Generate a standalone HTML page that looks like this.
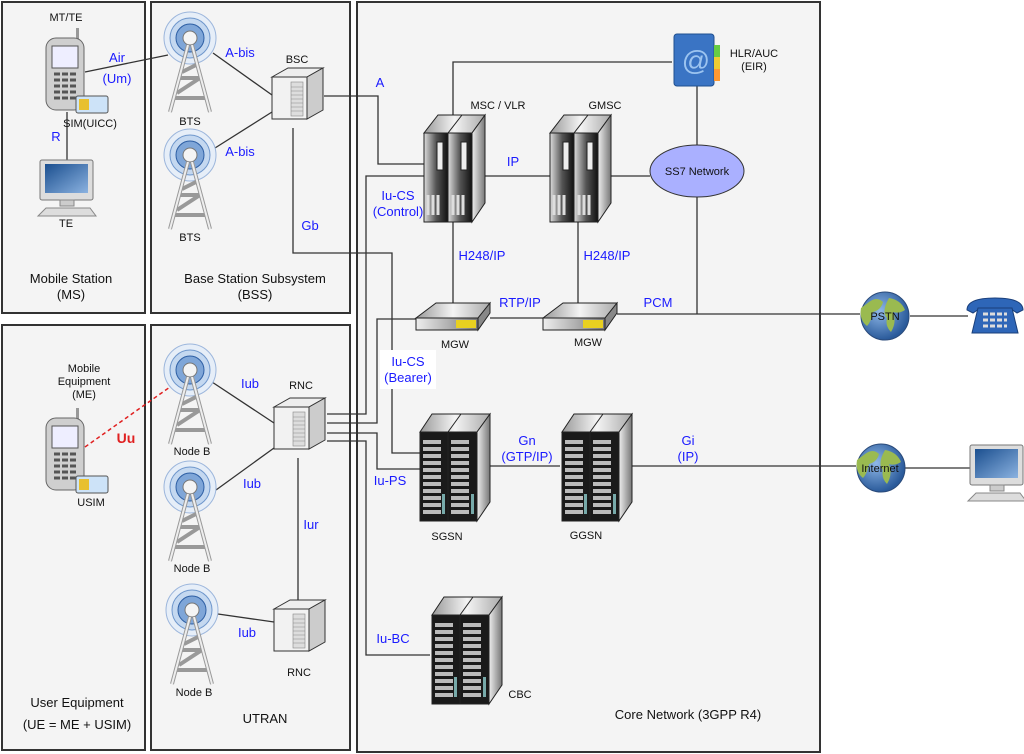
<!DOCTYPE html>
<html><head><meta charset="utf-8"><style>
html,body{margin:0;padding:0;background:#fff}
svg{display:block}
text{font-family:"Liberation Sans",Arial,sans-serif}
.b{fill:#1a1aff;font-size:13px}
.k{fill:#111;font-size:11px}
.t{fill:#111;font-size:13px}
</style></head><body>
<svg width="1024" height="754" viewBox="0 0 1024 754" xmlns="http://www.w3.org/2000/svg">
<defs>
<linearGradient id="gr" x1="0" x2="1"><stop offset="0" stop-color="#ddd"/><stop offset=".5" stop-color="#555"/><stop offset="1" stop-color="#111"/></linearGradient>
<linearGradient id="gs" x1="0" x2="1"><stop offset="0" stop-color="#eee"/><stop offset="1" stop-color="#777"/></linearGradient>
<linearGradient id="gt" x1="0" x2="1"><stop offset="0" stop-color="#999"/><stop offset=".5" stop-color="#f4f4f4"/><stop offset="1" stop-color="#aaa"/></linearGradient>
<radialGradient id="gg" cx=".4" cy=".4" r=".6"><stop offset="0" stop-color="#8fb8e8"/><stop offset="1" stop-color="#2a5a9a"/></radialGradient>
<linearGradient id="gm" x1="0" y1="0" x2="1" y2="1"><stop offset="0" stop-color="#1b4f8f"/><stop offset="1" stop-color="#8bb2e0"/></linearGradient>
<g id="tower">
 <circle cx="0" cy="0" r="26" fill="#e6eef8" stroke="#9cb6dc"/>
 <circle cx="0" cy="0" r="20" fill="#c4d8f0" stroke="#6f97cc"/>
 <circle cx="0" cy="0" r="14" fill="#7fa6d8" stroke="#2e5fa4"/>
 <circle cx="0" cy="0" r="7" fill="#f4f4f4" stroke="#777"/>
 <path d="M-2,7 L-20,74 M2,7 L20,74 M-16,60 L16,60 M-11,40 L11,40 M-13,55 L10,40 M-8,34 L8,26" stroke="#999" stroke-width="4" fill="none"/>
 <path d="M-2,7 L-20,74 M2,7 L20,74" stroke="#eee" stroke-width="2" fill="none"/>
</g>
<g id="cab">
 <polygon points="0,9 16,0 51,0 35,9" fill="#eee" stroke="#333"/>
 <polygon points="35,9 51,0 51,42 35,51" fill="#ccc" stroke="#333"/>
 <rect x="0" y="9" width="35" height="42" fill="#f2f2f2" stroke="#333"/>
 <rect x="19" y="14" width="12" height="34" fill="#ddd" stroke="#888" stroke-width=".6"/>
 <path d="M19,19h12M19,23h12M19,27h12M19,31h12M19,35h12M19,39h12M19,43h12" stroke="#888" stroke-width=".6"/>
</g>
<g id="rack">
 <polygon points="0,18 14,0 61,0 48,18" fill="url(#gt)" stroke="#222"/>
 <line x1="24" y1="18" x2="38" y2="0" stroke="#222"/>
 <polygon points="48,18 61,0 61,88 48,107" fill="url(#gs)" stroke="#222"/>
 <rect x="0" y="18" width="24" height="89" fill="url(#gr)" stroke="#222"/>
 <rect x="24" y="18" width="24" height="89" fill="url(#gr)" stroke="#222"/>
 <rect x="13" y="27" width="6" height="28" fill="#eee" stroke="#222"/><rect x="37" y="27" width="6" height="28" fill="#eee" stroke="#222"/>
 <path d="M4,80v20M9,80v20M14,80v20M29,80v20M34,80v20M39,80v20" stroke="#ddd" stroke-width="3"/>
</g>
<g id="srv">
 <polygon points="0,18 12,0 70,0 57,18" fill="url(#gt)" stroke="#222"/>
 <line x1="28" y1="18" x2="41" y2="0" stroke="#222"/>
 <polygon points="57,18 70,0 70,88 57,107" fill="url(#gs)" stroke="#222"/>
 <rect x="0" y="18" width="28" height="89" fill="#1a1a1a" stroke="#222"/>
 <rect x="28" y="18" width="29" height="89" fill="#1a1a1a" stroke="#222"/>
 <path d="M3,28h18M3,35h18M3,42h18M3,49h18M3,56h18M3,63h18M3,70h18M3,77h18M3,84h18M3,91h18M3,98h18M31,28h18M31,35h18M31,42h18M31,49h18M31,56h18M31,63h18M31,70h18M31,77h18M31,84h18M31,91h18M31,98h18" stroke="#bbb" stroke-width="4"/>
 <rect x="22" y="80" width="3" height="20" fill="#7aa"/><rect x="51" y="80" width="3" height="20" fill="#7aa"/>
</g>
<g id="mgw">
 <polygon points="0,15 20,0 74,0 62,15" fill="url(#gt)" stroke="#222"/>
 <polygon points="62,15 74,0 74,10 62,27" fill="#888" stroke="#222"/>
 <rect x="0" y="15" width="62" height="12" fill="url(#gs)" stroke="#222"/>
 <rect x="40" y="17" width="20" height="8" fill="#e8d020"/>
</g>
<g id="phone">
 <rect x="30" y="0" width="3" height="12" fill="#999"/>
 <rect x="0" y="10" width="38" height="72" rx="10" fill="#cfcfcf" stroke="#666"/>
 <rect x="6" y="18" width="26" height="22" fill="#eef" stroke="#555"/>
 <path d="M8,46h22M8,52h22M8,58h22M8,64h22M8,70h22" stroke="#555" stroke-width="3" stroke-dasharray="6,2"/>
 <rect x="30" y="68" width="32" height="17" rx="2" fill="#cde3f8" stroke="#555"/>
 <rect x="33" y="71" width="10" height="11" fill="#e8c030"/>
</g>
<g id="mon">
 <rect x="0" y="0" width="53" height="40" rx="2" fill="#ddd" stroke="#777"/>
 <rect x="5" y="4" width="43" height="29" fill="url(#gm)"/>
 <rect x="20" y="40" width="14" height="6" fill="#ccc" stroke="#888"/>
 <polygon points="-2,56 6,48 50,48 56,56" fill="#ddd" stroke="#888"/>
</g>
<g id="globe">
 <circle r="24" fill="url(#gg)" stroke="#2a4a7a"/>
 <path d="M-16,-14 q8,-6 14,0 q-2,8 -10,10 q-2,10 -6,14 q-8,-6 -6,-18z M4,-18 q12,2 16,12 q-6,4 -12,2 q4,10 -2,20 q-6,-6 -4,-14 q-6,-6 2,-20z" fill="#9aba50"/>
</g>
</defs>

<rect x="2" y="2" width="143" height="311" fill="#f4f4f4" stroke="#333" stroke-width="2"/>
<rect x="151" y="2" width="199" height="311" fill="#f4f4f4" stroke="#333" stroke-width="2"/>
<rect x="2" y="325" width="143" height="425" fill="#f4f4f4" stroke="#333" stroke-width="2"/>
<rect x="151" y="325" width="199" height="425" fill="#f4f4f4" stroke="#333" stroke-width="2"/>
<rect x="357" y="2" width="463" height="750" fill="#f4f4f4" stroke="#333" stroke-width="2"/>

<g stroke="#333" stroke-width="1.3" fill="none">
 <path d="M85,72 L168,55"/>
 <path d="M67,112 V160"/>
 <path d="M213,53 L272,95 M215,148 L272,112"/>
 <path d="M324,96 H378 V164 H425"/>
 <path d="M293,128 V253 H392 V453 H420"/>
 <path d="M327,414 H366 V176 H425"/>
 <path d="M327,423 H377 V319 H416"/>
 <path d="M327,433 H377 V469 H420"/>
 <path d="M327,441 H366 V655 H430"/>
 <path d="M453,115 V62 H672"/>
 <path d="M697,85 V150"/>
 <path d="M485,176 H551 M610,176 H650"/>
 <path d="M453,222 V303 M578,222 V303"/>
 <path d="M490,318 H543"/>
 <path d="M617,314 H860 M697,192 V314"/>
 <path d="M910,316 H968"/>
 <path d="M490,466 H560 M632,466 H856 M904,468 H970"/>
 <path d="M212,382 L274,423 M216,490 L274,448 M218,614 L274,622"/>
 <path d="M298,458 V608"/>
</g>
<path d="M85,447 L170,387" stroke="#e02020" stroke-width="1.5" stroke-dasharray="4,3"/>

<use href="#phone" x="46" y="28"/>
<use href="#mon" x="40" y="160"/>
<use href="#phone" x="46" y="408"/>
<use href="#tower" x="190" y="38"/>
<use href="#tower" x="190" y="155"/>
<use href="#tower" x="190" y="370"/>
<use href="#tower" x="190" y="487"/>
<use href="#tower" x="192" y="610"/>
<use href="#cab" x="272" y="68"/>
<use href="#cab" x="274" y="398"/>
<use href="#cab" x="274" y="600"/>
<use href="#rack" x="424" y="115"/>
<use href="#rack" x="550" y="115"/>
<use href="#mgw" x="416" y="303"/>
<use href="#mgw" x="543" y="303"/>
<use href="#srv" x="420" y="414"/>
<use href="#srv" x="562" y="414"/>
<use href="#srv" x="432" y="597"/>
<g>
 <rect x="674" y="34" width="40" height="52" rx="3" fill="#3a74c4" stroke="#1f4f8f"/>
 <rect x="714" y="45" width="6" height="12" fill="#6c4"/><rect x="714" y="57" width="6" height="12" fill="#ec3"/><rect x="714" y="69" width="6" height="12" fill="#f93"/>
 <text x="696" y="70" font-size="28" fill="#9cc4f0" text-anchor="middle">@</text>
</g>
<ellipse cx="697" cy="171" rx="47" ry="26" fill="#aab0ff" stroke="#333"/>
<use href="#globe" x="885" y="316"/>
<use href="#globe" x="881" y="468"/>
<g>
 <path d="M967,310 q0,-12 28,-12 q28,0 28,12 l-6,3 -6,-4 -32,0 -6,4z" fill="#2e66b8" stroke="#1a3f7a"/>
 <polygon points="978,308 1012,308 1018,333 972,333" fill="#2e66b8" stroke="#1a3f7a"/>
 <path d="M983,314h24M983,320h24M983,326h24" stroke="#ddd" stroke-width="3" stroke-dasharray="5,2"/>
</g>
<use href="#mon" x="970" y="445"/>

<g text-anchor="middle">
<text x="66" y="21" class="k">MT/TE</text>
<text x="117" y="62" class="b">Air</text>
<text x="117" y="83" class="b">(Um)</text>
<text x="90" y="127" class="k">SIM(UICC)</text>
<text x="56" y="141" class="b">R</text>
<text x="66" y="227" class="k">TE</text>
<text x="71" y="283" class="t">Mobile Station</text>
<text x="71" y="299" class="t">(MS)</text>
<text x="190" y="125" class="k">BTS</text>
<text x="190" y="241" class="k">BTS</text>
<text x="240" y="57" class="b">A-bis</text>
<text x="240" y="156" class="b">A-bis</text>
<text x="297" y="63" class="k">BSC</text>
<text x="380" y="87" class="b">A</text>
<text x="310" y="230" class="b">Gb</text>
<text x="255" y="283" class="t">Base Station Subsystem</text>
<text x="255" y="299" class="t">(BSS)</text>
<text x="498" y="109" class="k">MSC / VLR</text>
<text x="605" y="109" class="k">GMSC</text>
<text x="513" y="166" class="b">IP</text>
<text x="398" y="200" class="b">Iu-CS</text>
<text x="398" y="216" class="b">(Control)</text>
<text x="482" y="260" class="b">H248/IP</text>
<text x="607" y="260" class="b">H248/IP</text>
<text x="520" y="307" class="b">RTP/IP</text>
<text x="658" y="307" class="b">PCM</text>
<text x="455" y="348" class="k">MGW</text>
<text x="588" y="346" class="k">MGW</text>
<rect x="380" y="350" width="56" height="39" fill="#fff"/>
<text x="408" y="366" class="b">Iu-CS</text>
<text x="408" y="382" class="b">(Bearer)</text>
<text x="527" y="445" class="b">Gn</text>
<text x="527" y="461" class="b">(GTP/IP)</text>
<text x="688" y="445" class="b">Gi</text>
<text x="688" y="461" class="b">(IP)</text>
<text x="390" y="485" class="b">Iu-PS</text>
<text x="447" y="540" class="k">SGSN</text>
<text x="586" y="539" class="k">GGSN</text>
<text x="393" y="643" class="b">Iu-BC</text>
<text x="520" y="698" class="k">CBC</text>
<text x="688" y="719" class="t">Core Network  (3GPP R4)</text>
<text x="754" y="57" class="k">HLR/AUC</text>
<text x="754" y="70" class="k">(EIR)</text>
<text x="697" y="175" class="k">SS7 Network</text>
<text x="885" y="320" class="k">PSTN</text>
<text x="880" y="472" class="k">Internet</text>
<text x="84" y="372" class="k">Mobile</text>
<text x="84" y="385" class="k">Equipment</text>
<text x="84" y="398" class="k">(ME)</text>
<text x="126" y="443" fill="#e02020" font-size="14" font-weight="bold">Uu</text>
<text x="91" y="506" class="k">USIM</text>
<text x="250" y="388" class="b">Iub</text>
<text x="252" y="488" class="b">Iub</text>
<text x="247" y="637" class="b">Iub</text>
<text x="301" y="389" class="k">RNC</text>
<text x="311" y="529" class="b">Iur</text>
<text x="299" y="676" class="k">RNC</text>
<text x="192" y="455" class="k">Node B</text>
<text x="192" y="572" class="k">Node B</text>
<text x="194" y="696" class="k">Node B</text>
<text x="77" y="707" class="t">User Equipment</text>
<text x="77" y="729" class="t">(UE = ME + USIM)</text>
<text x="265" y="723" class="t">UTRAN</text>
</g>
</svg>
</body></html>
